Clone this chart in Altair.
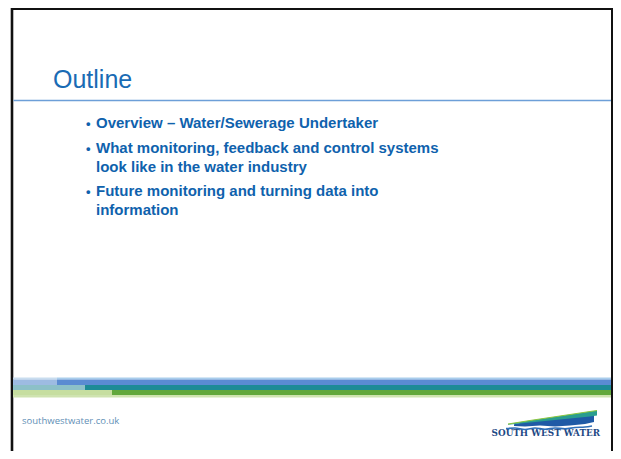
import altair as alt
import pandas as pd

# ---------------- content ----------------
title_text = ["Outline"]
bullet_lines = [
    "Overview – Water/Sewerage Undertaker",
    "What monitoring, feedback and control systems",
    "look like in the water industry",
    "Future monitoring and turning data into",
    "information",
]
bullet_starts = [True, True, False, True, False]
footer_url = ["southwestwater.co.uk"]
logo_name = ["SOUTH WEST WATER"]

# ---------------- layout (slide pixel coordinates) ----------------
line_baselines = [128, 153, 172, 196, 215]
band_y = [377.5, 379.5, 385, 390, 395, 397.5]
band_colors = ["#a9cdec", "#5a8bd2", "#1d8b96", "#62a83c", "#cfe3b0"]
band_pale = ["#c9ddef", "#9dbbe2", "#8cc0c8", "#c6dea0", "#e3eed2"]
band_step = [57, 57, 85, 112, 13]

W, H = 605, 443
XMAX, YMAX = 8 + W, 8 + H
xs = alt.Scale(domain=[8, XMAX], nice=False, zero=False)
ys = alt.Scale(domain=[8, YMAX], nice=False, zero=False, reverse=True)


def X(f="x"):
    return alt.X(f"{f}:Q", scale=xs, axis=None)


def Y(f="y"):
    return alt.Y(f"{f}:Q", scale=ys, axis=None)


# frame (top and right edges sit in the page margin, so they hug the chart edge)
frame = pd.DataFrame({
    "x": [12, 11, XMAX - 1], "x2": [12, XMAX, XMAX - 1],
    "y": [8, 9, 8], "y2": [YMAX, 9, YMAX],
    "w": [2.6, 2, 2],
})
frame_layer = alt.Chart(frame).mark_rule(color="#111111").encode(
    x=X("x"), x2="x2:Q", y=Y("y"), y2="y2:Q",
    strokeWidth=alt.StrokeWidth("w:Q", scale=None),
)

# title underline
uline = pd.DataFrame({"x": [13.5], "x2": [XMAX - 2], "y": [100.5], "y2": [100.5]})
uline_layer = alt.Chart(uline).mark_rule(color="#6d9fd8", strokeWidth=1.5).encode(
    x=X("x"), x2="x2:Q", y=Y("y"), y2="y2:Q"
)

# title
tdf = pd.DataFrame({"t": title_text, "x": [53], "y": [88]})
title_layer = alt.Chart(tdf).mark_text(
    align="left", baseline="alphabetic", font="Liberation Sans",
    fontSize=25, color="#1a6bb4"
).encode(x=X(), y=Y(), text="t:N")

# bullets text
bdf = pd.DataFrame({"t": bullet_lines, "x": [96] * 5, "y": line_baselines})
btext_layer = alt.Chart(bdf).mark_text(
    align="left", baseline="alphabetic", font="Liberation Sans",
    fontSize=15, fontWeight="bold", color="#0f62ad"
).encode(x=X(), y=Y(), text="t:N")

dots = pd.DataFrame({
    "t": ["•" for s in bullet_starts if s],
    "x": [86] * sum(bullet_starts),
    "y": [b for b, s in zip(line_baselines, bullet_starts) if s],
})
dot_layer = alt.Chart(dots).mark_text(
    align="left", baseline="alphabetic", font="Liberation Sans",
    fontSize=13, fontWeight="bold", color="#0f62ad"
).encode(x=X(), y=Y(), text="t:N")

# bottom band
rows = []
for i in range(5):
    rows.append({"x": 13, "x2": band_step[i], "y": band_y[i], "y2": band_y[i + 1], "c": band_pale[i]})
    rows.append({"x": band_step[i], "x2": XMAX - 2, "y": band_y[i], "y2": band_y[i + 1], "c": band_colors[i]})
band = pd.DataFrame(rows)
band_layer = alt.Chart(band).mark_rect().encode(
    x=X("x"), x2="x2:Q", y=Y("y"), y2="y2:Q",
    color=alt.Color("c:N", scale=None),
)

# footer url
fdf = pd.DataFrame({"t": footer_url, "x": [22], "y": [424]})
foot_layer = alt.Chart(fdf).mark_text(
    align="left", baseline="alphabetic", font="Open Sans",
    fontSize=9.5, color="#5f8fb6"
).encode(x=X(), y=Y(), text="t:N")

# logo text
ldf = pd.DataFrame({"t": logo_name, "x": [600], "y": [436]})
logo_layer = alt.Chart(ldf).mark_text(
    align="right", baseline="alphabetic", font="DejaVu Serif",
    fontSize=8.8, fontWeight="bold", color="#1f4a85"
).encode(x=X(), y=Y(), text="t:N")

# logo swoosh
green_band = pd.DataFrame({
    "x": [508, 530, 550, 570, 590, 597],
    "y": [424.0, 420.5, 417.5, 414.5, 411.5, 410.5],
    "y2": [424.8, 422.5, 420.5, 418.5, 416.5, 415.5],
})
green_layer = alt.Chart(green_band).mark_area(color="#2a9d8f").encode(
    x=X(), y=Y(), y2="y2:Q"
)
green_top = alt.Chart(green_band).mark_line(color="#8cc63f", strokeWidth=1.2).encode(
    x=X(), y=Y()
)
blue_area = pd.DataFrame({
    "x": [514, 525, 540, 555, 570, 585, 594],
    "y": [424.2, 422, 419.8, 418, 417, 415.5, 415.5],
    "y2": [426, 426.5, 425.5, 426.5, 425.5, 424, 422],
})
blue_layer = alt.Chart(blue_area).mark_area(color="#1f5aa6").encode(
    x=X(), y=Y(), y2="y2:Q"
)
wave = pd.DataFrame({
    "x": [506, 515, 525, 535, 545, 555, 565, 575, 585, 592],
    "y": [428.5, 428, 429.5, 428, 429.2, 428, 428.8, 427.5, 427, 426],
})
wave_layer = alt.Chart(wave).mark_line(color="#2f6fb8", strokeWidth=1.6, interpolate="monotone").encode(
    x=X(), y=Y()
)

chart = alt.layer(
    frame_layer, uline_layer, title_layer, btext_layer, dot_layer,
    band_layer, foot_layer, logo_layer,
    blue_layer, green_layer, green_top, wave_layer,
).properties(
    width=W, height=H, padding=0,
    autosize=alt.AutoSizeParams(type="none"),
    background="white",
).configure_view(strokeWidth=0)

chart.save("out.html", embed_options={"renderer": "svg", "actions": False})
